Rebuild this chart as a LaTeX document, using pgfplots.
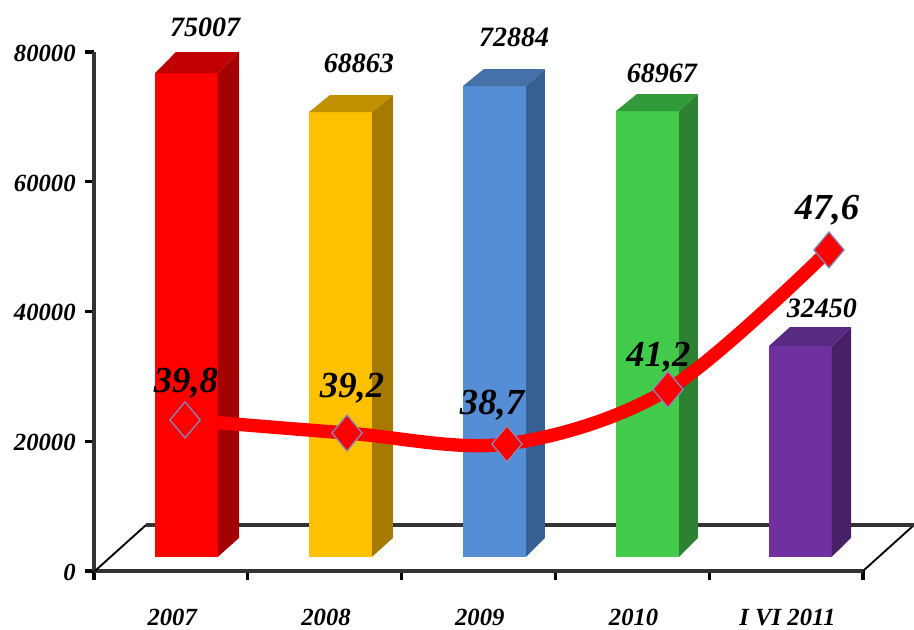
\documentclass[border=0pt]{standalone}
\usepackage{fontspec}
\setmainfont{Liberation Serif}
\usepackage{pgfplots}
\pgfplotsset{compat=1.18}

\definecolor{redF}{HTML}{FF0000}\definecolor{redS}{HTML}{A30000}\definecolor{redT}{HTML}{C00000}
\definecolor{yelF}{HTML}{FFC000}\definecolor{yelS}{HTML}{A67A00}\definecolor{yelT}{HTML}{C09000}
\definecolor{bluF}{HTML}{558ED5}\definecolor{bluS}{HTML}{376092}\definecolor{bluT}{HTML}{4670A8}
\definecolor{grnF}{HTML}{43CC4B}\definecolor{grnS}{HTML}{2C8232}\definecolor{grnT}{HTML}{339A3A}
\definecolor{purF}{HTML}{7030A0}\definecolor{purS}{HTML}{482068}\definecolor{purT}{HTML}{582A82}
\definecolor{spine}{HTML}{333333}
\definecolor{markedge}{HTML}{7F8FC0}

% left, right, depth right, front top, back top, three face colours
\newcommand{\threedbar}[8]{%
  \addplot[draw=none, fill=#6] coordinates {(#1,2200) (#2,2200) (#2,#4) (#1,#4)} -- cycle;
  \addplot[draw=none, fill=#7] coordinates {(#2,2200) (#3,5090) (#3,#5) (#2,#4)} -- cycle;
  \addplot[draw=none, fill=#8] coordinates {(#1,#4) (#2,#4) (#3,#5) (#1+0.136,#5)} -- cycle;
}
\newcommand{\vallabel}[3]{\node[font=\bfseries\itshape\fontsize{21}{21}\selectfont] at (axis cs:#1,#2) {#3};}
\newcommand{\linelabel}[3]{\node[font=\bfseries\itshape\fontsize{27.5}{27.5}\selectfont] at (axis cs:#1,#2) {#3};}

\begin{document}
\begin{tikzpicture}
\useasboundingbox (0,0) rectangle (685.5pt,471.75pt);
\begin{axis}[
    at={(70.5pt,43.5pt)}, anchor=south west,
    scale only axis, width=576.75pt, height=389.25pt,
    xmin=0, xmax=5, ymin=0, ymax=80000,
    clip=false,
    axis x line*=bottom, axis y line*=left,
    axis line style={line width=2.4pt, spine},
    xtick={0,1,2,3,4,5},
    xticklabels={2007,2008,2009,2010,I VI 2011},
    x tick label as interval,
    ytick={0,20000,40000,60000,80000},
    scaled y ticks=false,
    tick align=outside,
    major tick length=6.75pt,
    every tick/.style={line width=2.4pt, black},
    /pgf/number format/fixed,
    /pgf/number format/assume math mode=true,
    /pgf/number format/1000 sep={},
    tick label style={font=\bfseries\itshape\fontsize{18.5}{18.5}\selectfont},
    xticklabel style={inner sep=0pt, yshift=-21.5pt, xshift=1pt},
    yticklabel style={xshift=-3.5pt, yshift=-1pt},
]
% floor
\addplot[line width=1.4pt, black] coordinates {(0.006,0) (0.338,7090)};
\addplot[line width=1.4pt, black] coordinates {(5,0) (5.332,7090)};
\addplot[line width=3pt, spine] coordinates {(0.338,7090) (5.332,7090)};

\threedbar{0.397}{0.806}{0.943}{76762}{80000}{redF}{redS}{redT}
\threedbar{1.398}{1.808}{1.944}{70750}{73371}{yelF}{yelS}{yelT}
\threedbar{2.399}{2.809}{2.932}{74758}{77378}{bluF}{bluS}{bluT}
\threedbar{3.394}{3.804}{3.927}{70904}{73525}{grnF}{grnS}{grnT}
\threedbar{4.389}{4.798}{4.922}{34682}{37610}{purF}{purS}{purT}

\vallabel{0.722}{83852}{75007}
\vallabel{1.723}{78303}{68863}
\vallabel{2.731}{82311}{72884}
\vallabel{3.693}{76762}{68967}
\vallabel{4.733}{40539}{32450}
\end{axis}

% percentages on their own hidden scale
\begin{axis}[
    at={(70.5pt,43.5pt)}, anchor=south west,
    scale only axis, width=576.75pt, height=389.25pt,
    xmin=0, xmax=5, ymin=32.87, ymax=56.68,
    clip=false, hide axis,
]
\addplot[red, line width=10pt, smooth, tension=0.55,
    mark=diamond*, mark size=13.5pt,
    mark options={solid, fill=red, draw=markedge, line width=0.9pt, xscale=1.12}]
  coordinates {(0.592,39.8) (1.645,39.2) (2.685,38.7) (3.732,41.2) (4.779,47.6)};

\linelabel{0.598}{41.5}{39,8}
\linelabel{1.678}{41.25}{39,2}
\linelabel{2.588}{40.49}{38,7}
\linelabel{3.67}{42.69}{41,2}
\linelabel{4.766}{49.4}{47,6}
\end{axis}
\end{tikzpicture}
\end{document}
